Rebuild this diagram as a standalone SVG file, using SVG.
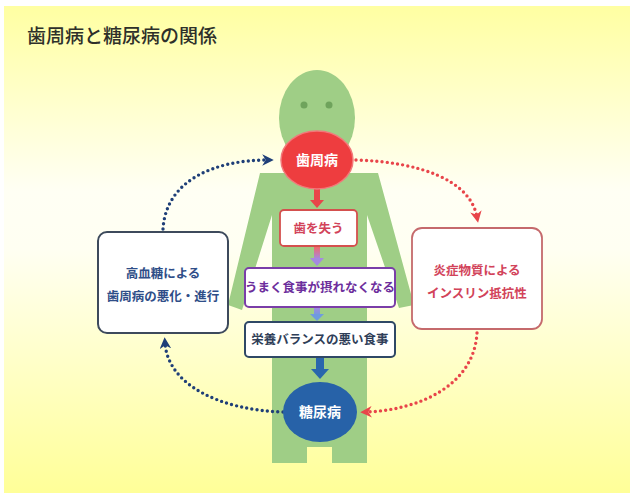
<svg xmlns="http://www.w3.org/2000/svg" width="630" height="493" viewBox="0 0 630 493">
  <defs>
    <linearGradient id="bg" x1="0" y1="0" x2="0" y2="1">
      <stop offset="0" stop-color="#ffffa2"/>
      <stop offset="0.38" stop-color="#fffff4"/>
      <stop offset="0.5" stop-color="#fffff2"/>
      <stop offset="1" stop-color="#ffff98"/>
    </linearGradient>
    <linearGradient id="arrRedPurple" x1="0" y1="0" x2="0" y2="1">
      <stop offset="0" stop-color="#f06a6a"/>
      <stop offset="1" stop-color="#a58ae0"/>
    </linearGradient>
    <linearGradient id="arrPurpleBlue" x1="0" y1="0" x2="0" y2="1">
      <stop offset="0" stop-color="#a58ae0"/>
      <stop offset="1" stop-color="#6f9be0"/>
    </linearGradient>
    <marker id="headNavy" viewBox="0 0 10 10" refX="5" refY="5" markerWidth="3.4" markerHeight="3.4" orient="auto" markerUnits="strokeWidth">
      <path d="M0,0 L10,5 L0,10 L3,5 Z" fill="#1f3f78"/>
    </marker>
    <marker id="headRed" viewBox="0 0 10 10" refX="5" refY="5" markerWidth="3.4" markerHeight="3.4" orient="auto" markerUnits="strokeWidth">
      <path d="M0,0 L10,5 L0,10 L3,5 Z" fill="#e8454a"/>
    </marker>
    <style>
      text { font-family: "Noto Sans CJK JP", "Noto Sans", sans-serif; text-anchor: middle; }
      .title { text-anchor: start; font-size: 19px; font-weight: 500; fill: #2e302a; }
      .body { fill: #9fce86; }
      .box { fill: #ffffff; }
      .lbl { font-size: 12.5px; font-weight: bold; }
      .circ { font-size: 14px; font-weight: bold; fill: #ffffff; }
      .dots { fill: none; stroke-width: 3.4; stroke-linecap: round; stroke-dasharray: 0 5.2; }
      .navy { stroke: #1f3f78; }
      .red { stroke: #e8454a; }
    </style>
  </defs>

  <!-- background -->
  <rect x="0" y="0" width="630" height="493" fill="#ffffff"/>
  <rect x="4" y="6" width="626" height="487" fill="url(#bg)"/>

  <text class="title" x="27" y="43">歯周病と糖尿病の関係</text>

  <!-- human silhouette -->
  <g id="figure">
    <ellipse class="body" cx="317" cy="118" rx="38" ry="48"/>
    <circle cx="304" cy="105" r="3.5" fill="#6fa35c"/>
    <circle cx="329" cy="105" r="3.5" fill="#6fa35c"/>
    <path class="body" d="M260,173 L378,173 L414,305 L399,308 L367,215 L367,463 L332,463 L332,447 L307,447 L307,463 L272,463 L272,215 L242,310 L228,305 Z"/>
  </g>

  <!-- connectors -->
  <g id="connectors">
    <path class="dots navy" d="M163,229 C166,180 215,160 268,160" marker-end="url(#headNavy)"/>
    <path class="dots red" d="M356,160 C420,162 470,180 477,217" marker-end="url(#headRed)"/>
    <path class="dots red" d="M477,333 C474,385 420,410 366,412" marker-end="url(#headRed)"/>
    <path class="dots navy" d="M283,412 C220,410 168,385 165,343" marker-end="url(#headNavy)"/>

    <!-- short vertical arrows down the chain -->
    <rect x="314" y="189" width="6" height="12" fill="#e8454a"/>
    <path d="M310,200 L324,200 L317,208 Z" fill="#e8454a"/>
    <rect x="314" y="247" width="6" height="12" fill="url(#arrRedPurple)"/>
    <path d="M310,258 L324,258 L317,266 Z" fill="#a58ae0"/>
    <rect x="314" y="307" width="6" height="9" fill="url(#arrPurpleBlue)"/>
    <path d="M310,314 L324,314 L317,321 Z" fill="#6f9be0"/>
    <rect x="316" y="357" width="8" height="13" fill="#2a66ad"/>
    <path d="M311,369 L329,369 L320,379 Z" fill="#2a66ad"/>
  </g>

  <g id="periodontal">
    <ellipse cx="317" cy="160" rx="36" ry="29" fill="#ee3d3f" stroke="#f2787a" stroke-width="1.5"/>
    <text class="circ" x="317" y="165">歯周病</text>
  </g>

  <g id="tooth-loss">
    <rect class="box" x="280" y="210" width="77" height="36" rx="4" stroke="#d4504e" stroke-width="1.8"/>
    <text class="lbl" x="318.5" y="233" fill="#d2435a">歯を失う</text>
  </g>

  <g id="eating">
    <rect class="box" x="245" y="268" width="150" height="39" rx="4" stroke="#7a3ea8" stroke-width="2"/>
    <text class="lbl" x="320" y="292" fill="#6c2e9c">うまく食事が摂れなくなる</text>
  </g>

  <g id="nutrition">
    <rect class="box" x="245" y="322" width="150" height="35" rx="4" stroke="#2f4866" stroke-width="2"/>
    <text class="lbl" x="320" y="344" fill="#2f3e58">栄養バランスの悪い食事</text>
  </g>

  <g id="diabetes">
    <ellipse cx="320" cy="412" rx="37" ry="30" fill="#2762a8"/>
    <text class="circ" x="320" y="417">糖尿病</text>
  </g>

  <g id="hyperglycemia">
    <rect class="box" x="98" y="232" width="130" height="101" rx="9" stroke="#3d4a5c" stroke-width="2"/>
    <text class="lbl" x="163" y="278" fill="#2f4e88">高血糖による</text>
    <text class="lbl" x="163" y="301" fill="#2f4e88">歯周病の悪化・進行</text>
  </g>

  <g id="insulin">
    <rect class="box" x="412" y="228" width="130" height="101" rx="10" stroke="#c56a6c" stroke-width="1.8"/>
    <text class="lbl" x="477" y="275" fill="#d2435a">炎症物質による</text>
    <text class="lbl" x="477" y="298" fill="#d2435a">インスリン抵抗性</text>
  </g>
</svg>
